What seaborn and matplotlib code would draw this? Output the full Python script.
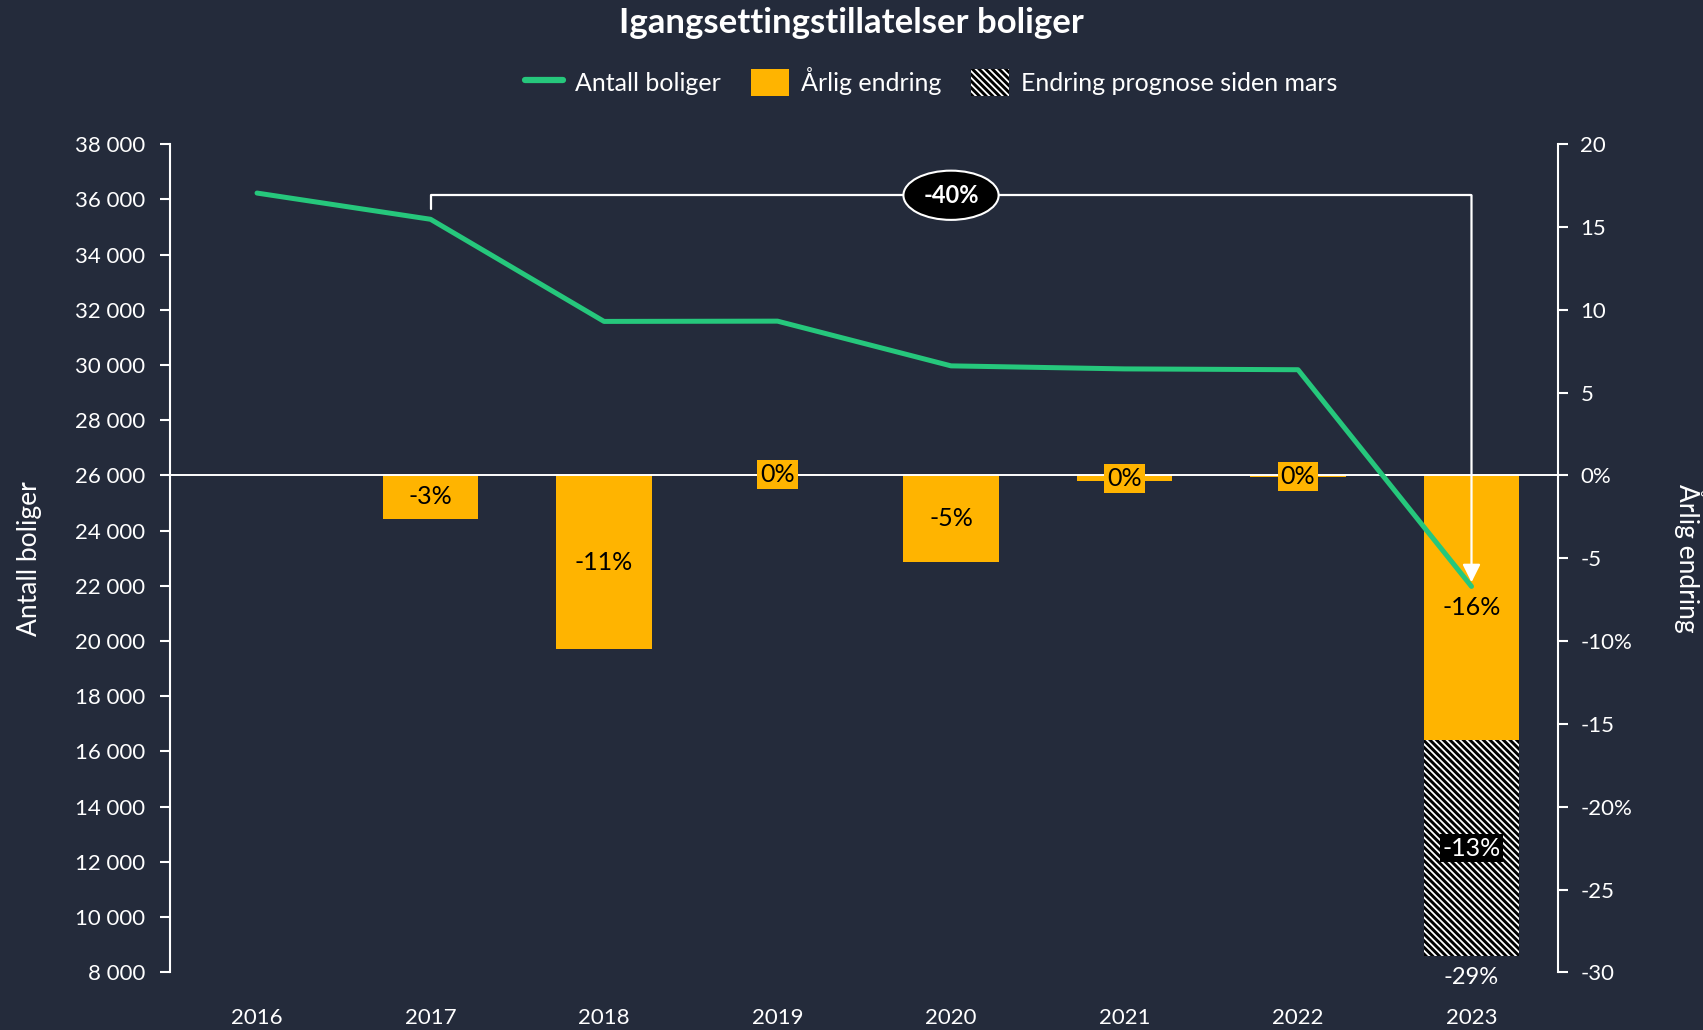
import numpy as np
import pandas as pd
import matplotlib
matplotlib.use("Agg")
import matplotlib.pyplot as plt
import seaborn as sns
from matplotlib.patches import Patch
from matplotlib.lines import Line2D

# ---------------------------
# Data
# ---------------------------
years = ["2016", "2017", "2018", "2019", "2020", "2021", "2022", "2023"]
antall_boliger = [36230, 35280, 31580, 31590, 29970, 29860, 29830, 21980]
arlig_endring = [0.0, -2.6, -10.5, 0.1, -5.2, -0.35, -0.1, -16.0]
prognose_total = [0.0, 0.0, 0.0, 0.0, 0.0, 0.0, 0.0, -29.0]
bar_labels = ["", "-3%", "-11%", "0%", "-5%", "0%", "0%", "-16%"]
prognose_label = "-13%"
total_label = "-29%"
bracket_label = "-40%"

left_ticks = list(range(8000, 38001, 2000))
left_ticklabels = [f"{v:,}".replace(",", " ") for v in left_ticks]
right_ticks = list(range(-30, 21, 5))
right_ticklabels = ["-30", "-25", "-20%", "-15", "-10%", "-5", "0%", "5", "10", "15", "20"]

BG = "#242b3b"
ORANGE = "#FFB400"
GREEN = "#26C77C"
HATCH = "\\" * 5

sns.set_theme(style="white")
plt.rcParams["font.family"] = ["Lato", "DejaVu Sans"]
plt.rcParams["hatch.linewidth"] = 1.3
plt.rcParams["hatch.color"] = "white"

df = pd.DataFrame({"year": years, "boliger": antall_boliger,
                   "endring": arlig_endring, "prognose": prognose_total})

fig, ax = plt.subplots(figsize=(17.03, 10.30), dpi=100)
fig.patch.set_facecolor(BG)
fig.subplots_adjust(left=0.100, right=0.915, top=0.860, bottom=0.056)
ax2 = ax.twinx()

# ---------------------------
# Bars (right axis)
# ---------------------------
sns.barplot(data=df, x="year", y="prognose", ax=ax2, color="black", edgecolor="white",
            linewidth=0, hatch=HATCH, width=0.55, saturation=1, errorbar=None)
sns.barplot(data=df, x="year", y="endring", ax=ax2, color=ORANGE, linewidth=0,
            width=0.55, saturation=1, errorbar=None)
ax2.axhline(0, color="white", lw=1.4, zorder=3)

for i, (v, lab) in enumerate(zip(arlig_endring, bar_labels)):
    if lab:
        ax2.text(i, v / 2, lab, ha="center", va="center", fontsize=18, color="black", zorder=5,
                 bbox=dict(facecolor=ORANGE, edgecolor="none", pad=2))
last = len(years) - 1
ax2.text(last, (arlig_endring[-1] + prognose_total[-1]) / 2, prognose_label, ha="center", va="center",
         fontsize=18, color="white", zorder=5, bbox=dict(facecolor="black", edgecolor="none", pad=2))
ax2.text(last, prognose_total[-1] - 0.7, total_label, ha="center", va="top", fontsize=17, color="white")

ax2.set_ylim(-30, 20)
ax2.set_yticks(right_ticks)
ax2.set_yticklabels(right_ticklabels)
ax2.set_ylabel("Årlig endring", color="white", fontsize=19, rotation=270, va="bottom", labelpad=30)

# ---------------------------
# Line (left axis)
# ---------------------------
sns.lineplot(x=np.arange(len(years)), y=antall_boliger, ax=ax, color=GREEN, lw=3.6)

by = antall_boliger[1] + 870
ax.plot([1, 1, last], [antall_boliger[1] + 360, by, by], color="white", lw=1.6)
ax.annotate("", xy=(last, antall_boliger[-1] + 150), xytext=(last, by),
            arrowprops=dict(arrowstyle="-|>,head_length=0.9,head_width=0.45", color="white",
                            lw=1.6, shrinkA=0, shrinkB=0))
ax.text((1 + last) / 2, by, bracket_label, ha="center", va="center", fontsize=17,
        fontweight="bold", color="white",
        bbox=dict(boxstyle="ellipse,pad=0.25", facecolor="black", edgecolor="white", lw=1.5))

ax.set_ylim(8000, 38000)
ax.set_yticks(left_ticks)
ax.set_yticklabels(left_ticklabels)
ax.set_ylabel("Antall boliger", color="white", fontsize=19, labelpad=24)

ax.set_xlim(-0.5, len(years) - 0.5)
ax.set_xticks(range(len(years)))
ax.set_xticklabels(years)
ax.set_xlabel("")
ax2.set_xlabel("")

# layering: line above bars
ax.set_zorder(ax2.get_zorder() + 1)
ax.patch.set_visible(False)
ax2.patch.set_visible(False)

for a in (ax, ax2):
    for s in a.spines.values():
        s.set_visible(False)
ax.spines["left"].set_visible(True)
ax.spines["left"].set_color("white")
ax.spines["left"].set_linewidth(1.5)
ax2.spines["right"].set_visible(True)
ax2.spines["right"].set_color("white")
ax2.spines["right"].set_linewidth(1.5)

ax.tick_params(axis="y", left=True, direction="out", length=7, width=1.5, color="white",
               labelcolor="white", labelsize=16, pad=11)
ax2.tick_params(axis="y", right=True, direction="out", length=7, width=1.5, color="white",
                labelcolor="white", labelsize=16, pad=9)
ax.tick_params(axis="x", bottom=False, labelcolor="white", labelsize=16, pad=20)

# ---------------------------
# Legend & title
# ---------------------------
handles = [Line2D([0], [0], color=GREEN, lw=4.5),
           Patch(facecolor=ORANGE, edgecolor="none"),
           Patch(facecolor="black", edgecolor="white", hatch=HATCH, lw=0)]
labels = ["Antall boliger", "Årlig endring", "Endring prognose siden mars"]
fig.legend(handles, labels, loc="center", bbox_to_anchor=(0.547, 0.921), ncol=3, frameon=False,
           fontsize=18, labelcolor="white", handlelength=1.5, handleheight=1.3,
           columnspacing=1.2, handletextpad=0.5)
fig.suptitle("Igangsettingstillatelser boliger", x=0.5, y=0.993, fontsize=25,
             fontweight="bold", color="white")

fig.savefig("out.png", dpi=100, facecolor=BG)
